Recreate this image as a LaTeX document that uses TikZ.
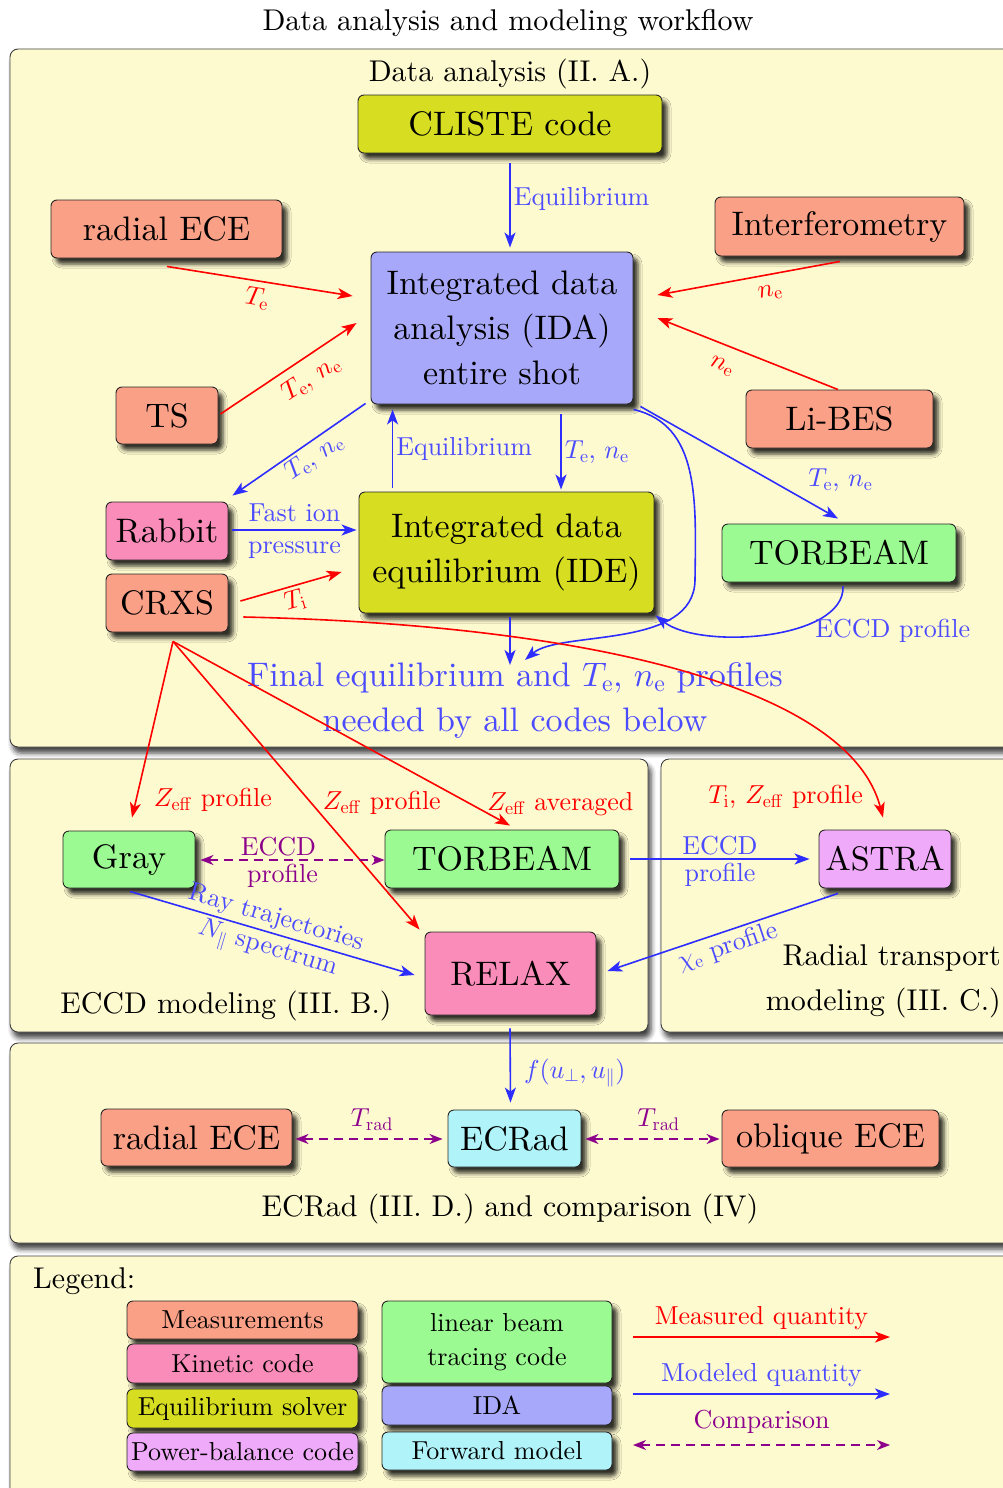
\RequirePackage{fix-cm}
\documentclass[tikz,border=0pt]{standalone}
\DeclareFontShape{TU}{lmr}{m}{n}{<->"[lmroman10-regular]:+tlig;"}{}
\DeclareFontShape{OT1}{cmr}{m}{n}{<->cmr10}{}
\DeclareFontShape{OML}{cmm}{m}{it}{<->cmmi10}{}
\DeclareFontShape{OMS}{cmsy}{m}{n}{<->cmsy10}{}
\usetikzlibrary{arrows.meta,shadows.blur,calc}
\definecolor{cMeas}{RGB}{250,160,135}
\definecolor{cKin}{RGB}{250,140,185}
\definecolor{cEq}{RGB}{215,222,34}
\definecolor{cBeam}{RGB}{155,250,145}
\definecolor{cIDA}{RGB}{168,168,250}
\definecolor{cPow}{RGB}{240,170,250}
\definecolor{cFwd}{RGB}{176,244,250}
\definecolor{cPanel}{RGB}{254,250,208}
\definecolor{cBlue}{RGB}{45,45,255}
\definecolor{cBlueT}{RGB}{75,75,255}
\definecolor{cPurp}{RGB}{140,0,140}
\definecolor{cRed}{RGB}{255,0,0}
\begin{document}
\begin{tikzpicture}[x=1pt,y=-1pt,
  panel/.style={draw=black!75, line width=0.9pt, fill=cPanel, rounded corners=8pt,
    blur shadow={shadow xshift=3pt, shadow yshift=-6pt, shadow blur radius=5pt, shadow opacity=75}},
  box/.style={draw=black!85, line width=0.9pt, rounded corners=6pt, align=center, inner sep=0pt,
    font=\fontsize{34}{45}\selectfont,
    blur shadow={shadow xshift=5pt, shadow yshift=-6pt, shadow blur radius=4pt, shadow opacity=80}},
  lbox/.style={box, font=\fontsize{26}{34}\selectfont},
  ptitle/.style={font=\fontsize{30}{45}\selectfont, inner sep=0pt},
  lab/.style={font=\fontsize{26}{31}\selectfont, inner sep=3pt},
  mlab/.style={lab, text=cRed},
  blab/.style={lab, text=cBlueT},
  plab/.style={lab, text=cPurp},
  meas/.style={draw=cRed, line width=1.6pt, -{Stealth[length=15pt,width=11pt,inset=4pt]}},
  model/.style={draw=cBlue, line width=1.6pt, -{Stealth[length=15pt,width=11pt,inset=4pt]}},
  comp/.style={draw=cPurp, line width=1.6pt, dash pattern=on 9pt off 6pt,
    {Stealth[length=13pt,width=10pt,inset=4pt]}-{Stealth[length=13pt,width=10pt,inset=4pt]}}
]
\useasboundingbox (0,0) rectangle (1003,1488);

% title
\node[ptitle] (title) at (508,23) {Data analysis and modeling workflow};

% panels
\draw[panel] (10,49) rectangle (1030,747);
\draw[panel] (10,759) rectangle (648,1032);
\draw[panel] (661,759) rectangle (1030,1032);
\draw[panel] (10,1043) rectangle (1030,1243);
\draw[panel] (10,1256) rectangle (1030,1510);

\node[ptitle] (t1) at (510,74) {Data analysis (II. A.)};
\node[ptitle] (t2) at (226,1006) {ECCD modeling (III. B.)};
\node[ptitle, align=right, anchor=east] (t3) at (1001,981) {Radial transport\\modeling (III. C.)};
\node[ptitle] (t4) at (510,1209) {ECRad (III. D.) and comparison (IV)};
\node[ptitle, anchor=west] (t5) at (33,1281) {Legend:};

% nodes, panel 1
\node[box, fill=cEq, minimum width=304pt, minimum height=58pt] (cliste) at (510,124) {CLISTE code};
\node[box, fill=cMeas, minimum width=231pt, minimum height=58pt] (radece1) at (166.5,229) {radial ECE};
\node[box, fill=cMeas, minimum width=249pt, minimum height=59pt] (interf) at (839.5,226.5) {Interferometry};
\node[box, fill=cIDA, minimum width=262pt, minimum height=152pt] (ida) at (502,328) {Integrated data\\analysis (IDA)\\entire shot};
\node[box, fill=cMeas, minimum width=102pt, minimum height=57pt] (ts) at (167,415.5) {TS};
\node[box, fill=cMeas, minimum width=187pt, minimum height=58pt] (libes) at (839.5,419) {Li-BES};
\node[box, fill=cKin, minimum width=122pt, minimum height=58pt] (rabbit) at (167,531) {Rabbit};
\node[box, fill=cMeas, minimum width=122pt, minimum height=58pt] (crxs) at (167,603) {CRXS};
\node[box, fill=cEq, minimum width=295pt, minimum height=121pt] (ide) at (506.5,552.5) {Integrated data\\equilibrium (IDE)};
\node[box, fill=cBeam, minimum width=234pt, minimum height=58pt] (torb1) at (839,553) {TORBEAM};
\node[font=\fontsize{34}{45}\selectfont, text=cBlueT, align=center, inner sep=0pt] (final) at (515,700)
  {Final equilibrium and $T_\mathrm{e}$, $n_\mathrm{e}$ profiles\\needed by all codes below};
\coordinate (finaltop) at (515,662);

% panel 2/3
\node[box, fill=cBeam, minimum width=132pt, minimum height=57pt] (gray) at (129,859.5) {Gray};
\node[box, fill=cBeam, minimum width=234pt, minimum height=58pt] (torb2) at (502,859) {TORBEAM};
\node[box, fill=cPow, minimum width=132pt, minimum height=58pt] (astra) at (885,859) {ASTRA};
\node[box, fill=cKin, minimum width=171pt, minimum height=83pt] (relax) at (510.5,973.5) {RELAX};

% panel 4
\node[box, fill=cMeas, minimum width=191pt, minimum height=57pt] (radece2) at (196.5,1137.5) {radial ECE};
\node[box, fill=cFwd, minimum width=133pt, minimum height=57pt] (ecrad) at (514.5,1138.5) {ECRad};
\node[box, fill=cMeas, minimum width=217pt, minimum height=57pt] (oblece) at (830.5,1138.5) {oblique ECE};

% legend boxes
\node[lbox, fill=cMeas, minimum width=231pt, minimum height=38pt] (lg1) at (242.5,1320) {Measurements};
\node[lbox, fill=cKin, minimum width=231pt, minimum height=39pt] (lg2) at (242.5,1363.5) {Kinetic code};
\node[lbox, fill=cEq, minimum width=231pt, minimum height=39pt] (lg3) at (242.5,1408.5) {Equilibrium solver};
\node[lbox, fill=cPow, minimum width=231pt, minimum height=38pt] (lg4) at (242.5,1452) {Power-balance code};
\node[lbox, fill=cBeam, minimum width=230pt, minimum height=82pt] (lg5) at (497,1342) {linear beam\\tracing code};
\node[lbox, fill=cIDA, minimum width=230pt, minimum height=39pt] (lg6) at (497,1405.5) {IDA};
\node[lbox, fill=cFwd, minimum width=230pt, minimum height=38pt] (lg7) at (497,1451) {Forward model};

% connectors, panel 1
\draw[model] ($(cliste.south)+(0,10)$) -- ($(cliste.south |- ida.north)+(0,-4)$)
  node[blab, pos=0.42, right] {Equilibrium};
\draw[meas] ($(radece1.south)+(0.5,8)$) -- ($(ida.west)+(-18,-32)$)
  node[mlab, midway, below, sloped, inner ysep=6pt] {$T_\mathrm{e}$};
\draw[meas] ($(interf.south)+(0.5,5)$) -- ($(ida.east)+(24,-33)$)
  node[mlab, pos=0.4, below, sloped, inner ysep=10pt] {$n_\mathrm{e}$};
\draw[meas] ($(libes.north)+(-1.5,0)$) -- ($(ida.east)+(24,-10)$)
  node[mlab, pos=0.6, below, sloped, inner ysep=13pt] {$n_\mathrm{e}$};
\draw[meas] ($(ts.east)+(2,-1.5)$) -- ($(ida.west)+(-14,-5)$)
  node[mlab, pos=0.58, below, sloped, inner ysep=9pt] {$T_\mathrm{e}$, $n_\mathrm{e}$};
\draw[model] ($(ida.south west)+(-5,-1)$) -- ($(rabbit.north east)+(4,-6)$)
  node[blab, pos=0.45, below, sloped] {$T_\mathrm{e}$, $n_\mathrm{e}$};
\draw[model] ($(ide.north west)+(34,-4)$) -- ($(ida.south west)+(22,5)$)
  node[blab, midway, right] {Equilibrium};
\draw[model] ($(ida.south)+(59,10)$) -- ($(ide.north)+(54.5,-2)$)
  node[blab, midway, right] {$T_\mathrm{e}$, $n_\mathrm{e}$};
\draw[model] ($(ida.south east)+(7,2)$) -- ($(torb1.north)+(-1,-5)$)
  node[blab, pos=0.72, anchor=west, xshift=22pt, yshift=7pt] {$T_\mathrm{e}$, $n_\mathrm{e}$};
\draw[model] ($(ida.south east)+(0,5)$) .. controls (700,425) and (696,500) .. (695,580)
  .. controls (694,650) and (560,630) .. ($(finaltop)+(10,-2)$);
\draw[model] ($(torb1.south)+(4,4)$) .. controls (845,640) and (700,650) .. ($(ide.south east)+(1,2)$)
  node[blab, pos=0.22, anchor=north west, xshift=-14pt] {ECCD profile};
\draw[model] ($(rabbit.east)+(4,-1)$) -- ($(ide.west)+(-2,-22.5)$)
  node[blab, midway, above, yshift=4pt] {Fast ion}
  node[blab, midway, below, yshift=-8pt] {pressure};
\draw[meas] ($(crxs.east)+(12,-2)$) -- ($(ide.west)+(-17,19.5)$)
  node[mlab, midway, below, sloped] {$T_\mathrm{i}$};
\draw[model] ($(ide.south)+(3.5,4)$) -- ($(finaltop)+(-5,3)$);

% red connectors from CRXS
\coordinate (crxsfoot) at ($(crxs.south)+(6,9)$);
\draw[meas] ($(crxs.east)+(15,14)$) .. controls (600,625) and (850,690) .. ($(astra.north)+(-2,-12)$)
  node[mlab, pos=0.9, anchor=north east] {$T_\mathrm{i}$, $Z_\mathrm{eff}$ profile};
\draw[meas] (crxsfoot) -- ($(gray.north)+(3,-13)$)
  node[mlab, pos=0.9, anchor=west, xshift=14pt] {$Z_\mathrm{eff}$ profile};
\draw[meas] (crxsfoot) -- ($(relax.north west)+(-5,-2)$)
  node[mlab, pos=0.56, anchor=west, xshift=8pt] {$Z_\mathrm{eff}$ profile};
\draw[meas] (crxsfoot) -- ($(torb2.north)+(8,-4)$)
  node[mlab, pos=0.886, anchor=west, xshift=12pt] {$Z_\mathrm{eff}$ averaged};

% panel 2/3 connectors
\draw[comp] ($(gray.east)+(5,0.5)$) -- ($(torb2.west)+(0,1)$)
  node[plab, midway, above, xshift=-14pt] {ECCD}
  node[plab, midway, below, xshift=-10pt] {profile};
\draw[model] ($(gray.south)+(1,3)$) -- ($(relax.west)+(-10,1.5)$)
  node[blab, midway, above, sloped] {Ray trajectories}
  node[blab, midway, below, sloped] {$N_\parallel$ spectrum};
\draw[model] ($(torb2.east)+(11,0)$) -- ($(astra.west)+(-9,0)$)
  node[blab, midway, above] {ECCD}
  node[blab, midway, below] {profile};
\draw[model] ($(astra.south)+(-47,5)$) -- ($(relax.east)+(11,-2.5)$)
  node[blab, midway, below, sloped] {$\chi_\mathrm{e}$ profile};
\draw[model] ($(relax.south)+(-0.5,13)$) -- ($(ecrad.north)+(-4,-7)$)
  node[blab, pos=0.6, right, xshift=10pt] {$f(u_\perp, u_\parallel)$};

% panel 4 connectors
\draw[comp] ($(radece2.east)+(3,1.5)$) -- ($(ecrad.west)+(-5,0.5)$)
  node[plab, midway, above, yshift=5pt, xshift=3pt] {$T_\mathrm{rad}$};
\draw[comp] ($(ecrad.east)+(4,0.5)$) -- ($(oblece.west)+(-2,0.5)$)
  node[plab, midway, above, yshift=5pt, xshift=6pt] {$T_\mathrm{rad}$};

% legend arrows
\coordinate (la1) at (633,1337); \coordinate (la2) at (890,1337);
\coordinate (lb1) at (633,1394); \coordinate (lb2) at (890,1394);
\coordinate (lc1) at (633,1445); \coordinate (lc2) at (890,1445);
\draw[meas] (la1) -- (la2) node[mlab, midway, above, yshift=3pt] {Measured quantity};
\draw[model] (lb1) -- (lb2) node[blab, midway, above, yshift=3pt] {Modeled quantity};
\draw[comp] (lc1) -- (lc2) node[plab, midway, above, yshift=8pt] {Comparison};
\end{tikzpicture}
\end{document}
